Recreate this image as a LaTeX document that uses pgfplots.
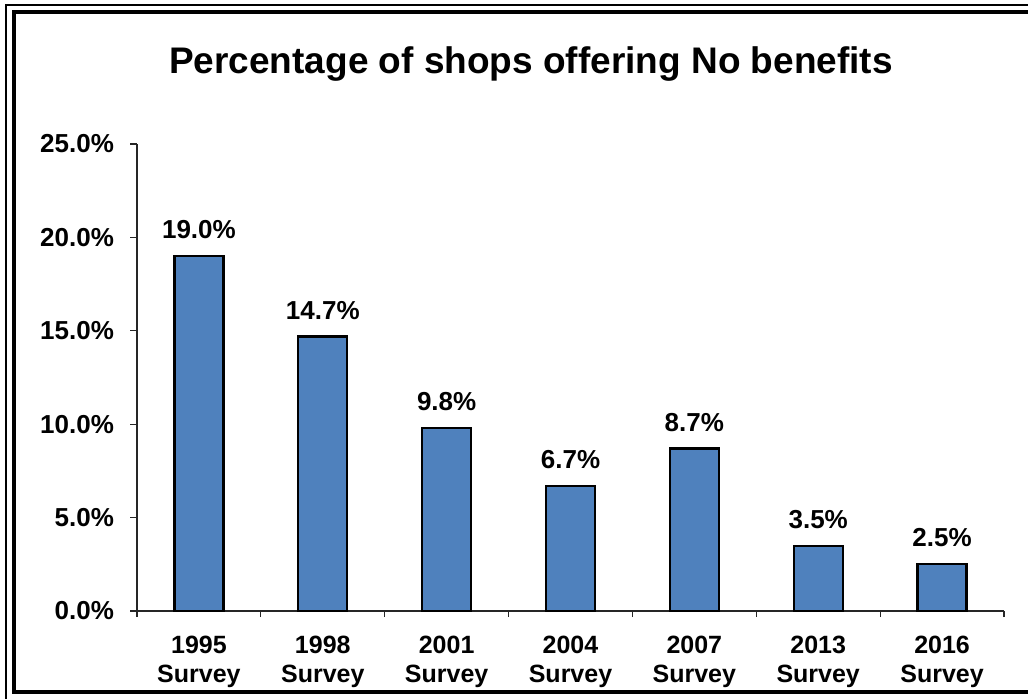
\documentclass[border=0pt]{standalone}
\usepackage{fontspec}
\setmainfont{Liberation Sans}
\usepackage{pgfplots}
\pgfplotsset{compat=1.18}
\definecolor{barblue}{HTML}{4F81BD}
\begin{document}
\begin{tikzpicture}
\useasboundingbox (0,0) rectangle (514pt,349pt);
\clip (0,0) rectangle (514pt,349pt);
% frames
\draw[line width=1pt] (3pt,-10pt) rectangle (530pt,346.5pt);
\draw[line width=1.9pt] (7.15pt,3pt) rectangle (525pt,342.85pt);
% title
\node[font=\fontsize{18.5pt}{21pt}\selectfont\bfseries] at (265.5pt,317pt) {Percentage of shops offering No benefits};
\begin{axis}[
  at={(68.5pt,43.5pt)}, anchor=south west,
  scale only axis, width=433.5pt, height=233.5pt,
  xmin=-0.5, xmax=6.5, ymin=0, ymax=25,
  axis x line*=bottom, axis y line*=left,
  axis line style={line width=0.6pt, black!85},
  xtick={0,...,6},
  xticklabels={{1995\\Survey},{1998\\Survey},{2001\\Survey},{2004\\Survey},{2007\\Survey},{2013\\Survey},{2016\\Survey}},
  x tick label style={align=center, font=\fontsize{12.5pt}{14.6pt}\selectfont\bfseries, yshift=-5.5pt},
  major x tick style={draw=none},
  minor xtick={-0.5,0.5,...,6.5},
  minor x tick style={black!85, line width=0.6pt},
  minor tick length=3pt,
  ytick={0,5,10,15,20,25},
  y tick style={black!85, line width=0.6pt},
  major tick length=3.5pt,
  tick align=outside,
  /pgf/number format/assume math mode=true,
  yticklabel={\pgfmathprintnumber[fixed,fixed zerofill,precision=1]{\tick}\%},
  y tick label style={font=\fontsize{13pt}{15pt}\selectfont\bfseries, xshift=-4.5pt},
  ybar, bar width=24.5pt,
  nodes near coords={\pgfmathprintnumber[fixed,fixed zerofill,precision=1,assume math mode=true]{\pgfplotspointmeta}\%},
  every node near coord/.append style={font=\fontsize{13pt}{15pt}\selectfont\bfseries, inner sep=0pt, anchor=south, yshift=8pt},
]
\addplot[fill=barblue, draw=black, line width=1.1pt] coordinates {(0,19.0) (1,14.7) (2,9.8) (3,6.7) (4,8.7) (5,3.5) (6,2.5)};
\end{axis}
\end{tikzpicture}
\end{document}
